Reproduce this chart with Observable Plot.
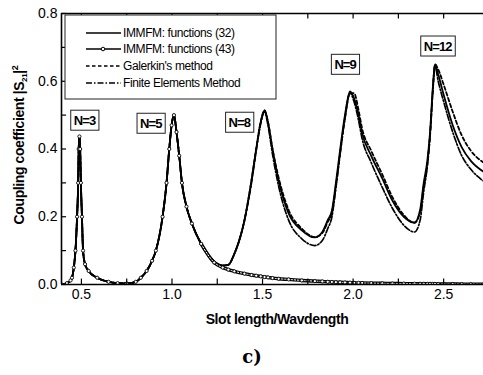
<!DOCTYPE html>
<html><head><meta charset="utf-8">
<script src="https://cdn.jsdelivr.net/npm/d3@7"></script>
<script src="https://cdn.jsdelivr.net/npm/@observablehq/plot@0.6"></script>
<style>
body{margin:0;background:#fff;}
#chart{position:relative;width:483px;height:375px;}
</style></head><body><div id="chart"></div>
<script>
// ---- data ----
const xGrid = [0.39,0.42,0.44,0.448,0.458,0.467,0.476,0.482,0.485,0.489,
  0.493,0.497,0.503,0.509,0.52,0.54,0.587,0.65,0.7,0.75,
  0.8,0.828,0.86,0.89,0.911,0.948,0.97,0.985,0.998,1.011,
  1.025,1.04,1.055,1.08,1.11,1.161,1.233,1.28,1.311,1.344,
  1.40,1.439,1.465,1.49,1.511,1.53,1.555,1.589,1.644,1.717,
  1.789,1.83,1.86,1.883,1.905,1.928,1.955,1.983,2.005,2.03,
  2.05,2.10,2.161,2.217,2.28,2.339,2.37,2.39,2.41,2.425,
  2.44,2.452,2.47,2.50,2.55,2.60,2.65,2.72];
const y32 = [0.0,0.004,0.012,0.02,0.05,0.10,0.20,0.30,0.40,0.437,
  0.40,0.30,0.20,0.10,0.06,0.04,0.02,0.008,0.004,0.003,
  0.008,0.02,0.04,0.07,0.10,0.20,0.30,0.40,0.47,0.50,
  0.45,0.38,0.30,0.23,0.18,0.12,0.068,0.056,0.058,0.09,
  0.189,0.307,0.40,0.48,0.514,0.48,0.40,0.307,0.21,0.16,
  0.139,0.155,0.19,0.218,0.30,0.396,0.50,0.57,0.55,0.50,
  0.446,0.38,0.313,0.248,0.20,0.183,0.22,0.30,0.366,0.45,
  0.58,0.648,0.62,0.56,0.47,0.405,0.365,0.333];
const y43 = [0.0,0.004,0.012,0.02,0.05,0.10,0.20,0.30,0.40,0.437,
  0.40,0.30,0.20,0.10,0.06,0.04,0.02,0.008,0.004,0.003,
  0.008,0.02,0.04,0.07,0.10,0.20,0.30,0.40,0.47,0.50,
  0.45,0.38,0.30,0.23,0.18,0.12,0.065,0.05,0.044,0.039,
  0.032,0.028,0.026,0.024,0.022,0.021,0.019,0.017,0.015,0.012,
  0.010,0.009,0.008,0.0075,0.007,0.0065,0.006,0.0055,0.005,0.0048,
  0.0045,0.004,0.0035,0.003,0.0027,0.0024,0.0022,0.0021,0.002,0.002,
  0.0019,0.0018,0.0017,0.0016,0.0014,0.0012,0.0011,0.001];
const yGalerkin = [0.0,0.004,0.012,0.02,0.05,0.10,0.20,0.30,0.40,0.437,
  0.40,0.30,0.20,0.10,0.06,0.04,0.02,0.008,0.004,0.003,
  0.008,0.02,0.04,0.07,0.10,0.20,0.30,0.40,0.47,0.50,
  0.45,0.38,0.30,0.23,0.18,0.12,0.068,0.056,0.058,0.09,
  0.189,0.307,0.40,0.48,0.514,0.48,0.40,0.315,0.22,0.165,
  0.14,0.152,0.185,0.212,0.29,0.385,0.49,0.565,0.565,0.515,
  0.46,0.395,0.325,0.258,0.205,0.182,0.215,0.29,0.355,0.44,
  0.57,0.65,0.635,0.59,0.51,0.44,0.395,0.36];
const yFEM = [0.0,0.004,0.012,0.02,0.05,0.10,0.20,0.30,0.40,0.437,
  0.40,0.30,0.20,0.10,0.06,0.04,0.02,0.008,0.004,0.003,
  0.008,0.02,0.04,0.07,0.10,0.20,0.30,0.40,0.47,0.50,
  0.45,0.38,0.30,0.23,0.18,0.12,0.068,0.056,0.058,0.09,
  0.189,0.30,0.395,0.475,0.51,0.47,0.385,0.29,0.19,0.135,
  0.115,0.13,0.165,0.20,0.285,0.385,0.49,0.565,0.54,0.485,
  0.43,0.36,0.287,0.225,0.175,0.155,0.19,0.275,0.35,0.44,
  0.57,0.645,0.60,0.54,0.45,0.38,0.34,0.305];
const seriesNames = ["IMMFM: functions (32)","IMMFM: functions (43)","Galerkin's method","Finite Elements Method"];
const xTicks = [0.5,1.0,1.5,2.0,2.5];
const xMinorTicks = [0.75,1.25,1.75,2.25];
const yTicks = [0.0,0.2,0.4,0.6,0.8];
const yMinorTicks = [0.1,0.3,0.5,0.7];
const peakLabels = ["N=3","N=5","N=8","N=9","N=12"];
const peakLabelX = [0.517,0.883,1.372,1.956,2.467];
const peakLabelY = [0.484,0.475,0.478,0.649,0.703];
const xTitle = "Slot length/Wavdength";
const caption = "c)";

// ---- build ----
const rows = ys => xGrid.map((x,i)=>({x, y: ys[i]}));
const r32 = rows(y32), r43 = rows(y43), rG = rows(yGalerkin), rF = rows(yFEM);
// part of series (43) that leaves the other curves (long decaying tail)
const firstSplit = y43.findIndex((v,i) => v !== y32[i]);
const r43tail = r43.slice(firstSplit - 1);
const labelRows = peakLabels.map((t,i)=>({t, x: peakLabelX[i], y: peakLabelY[i]}));
const allX = xTicks.concat(xMinorTicks), allY = yTicks.concat(yMinorTicks);
const X0 = 0.39, X1 = 2.72;
const fmt = d3.format(".1f");
const lineOpts = {x:"x", y:"y", curve:"monotone-x", clip:true, stroke:"#000"};

const chart = Plot.plot({
  width: 483, height: 375,
  marginLeft: 61, marginRight: 0, marginTop: 13, marginBottom: 91,
  style: {fontFamily: "'Liberation Sans', Arial, sans-serif", fontSize: "14px", background: "#fff", color: "#000"},
  x: {domain: [X0, X1]},
  y: {domain: [0, 0.8]},
  marks: [
    Plot.line(rF, {...lineOpts, strokeWidth: 1.7, strokeDasharray: "6,2,1.5,2"}),
    Plot.line(rG, {...lineOpts, strokeWidth: 1.8, strokeDasharray: "3.5,2.5"}),
    Plot.line(r32, {...lineOpts, strokeWidth: 1.8}),
    Plot.line(r43, {...lineOpts, strokeWidth: 1.8}),
    Plot.line(r43tail, {...lineOpts, strokeWidth: 3.4}),
    Plot.line(r43tail, {...lineOpts, stroke: "#fff", strokeWidth: 1.0, strokeDasharray: "1.4,1.8"}),
    Plot.dot(r43, {x: "x", y: "y", r: 1.6, fill: "#fff", stroke: "#000", strokeWidth: 0.9, clip: true}),
    Plot.ruleX(allX, {x: d=>d, y1: 0, y2: 0.016, strokeWidth: 1.2}),
    Plot.ruleX(allX, {x: d=>d, y1: 0.8, y2: 0.784, strokeWidth: 1.2}),
    Plot.ruleY(allY, {y: d=>d, x1: X0, x2: X0 + 0.028, strokeWidth: 1.2}),
    Plot.ruleY([0], {strokeWidth: 1.6}),
    Plot.ruleY([0.8], {strokeWidth: 1.6}),
    Plot.ruleX([X0], {strokeWidth: 1.6}),
    Plot.axisX(xTicks, {tickSize: 0, tickPadding: 5, tickFormat: fmt, label: null, fontSize: 14}),
    Plot.axisY(yTicks, {tickSize: 0, tickPadding: 4, tickFormat: fmt, label: null, fontSize: 14}),
    Plot.text(labelRows, {x: "x", y: "y", text: "t", fontWeight: "bold", fontSize: 13, fill: "#000"})
  ]
});
document.getElementById("chart").appendChild(chart);

const svg = d3.select(chart);
// boxes around peak labels (same transform as the label text)
svg.selectAll("text").filter(function(){ return peakLabels.includes(this.textContent); })
  .attr("letter-spacing", "-0.9")
  .each(function(){
    const b = this.getBBox();
    const rect = document.createElementNS("http://www.w3.org/2000/svg", "rect");
    this.parentNode.insertBefore(rect, this);
    const tr = this.getAttribute("transform");
    const r = d3.select(rect)
      .attr("x", b.x - 3).attr("y", b.y - 2.5)
      .attr("width", b.width + 6).attr("height", b.height + 5)
      .attr("fill", "#fff").attr("stroke", "#222").attr("stroke-width", 1);
    if (tr) r.attr("transform", tr);
  });

// legend
const lg = svg.append("g").attr("font-size", 12).attr("text-anchor", "start")
  .attr("font-family", "'Liberation Sans', Arial, sans-serif");
lg.append("rect").attr("x", 65).attr("y", 15).attr("width", 211).attr("height", 84)
  .attr("fill", "#fff").attr("stroke", "#222").attr("stroke-width", 1);
const legY = [33, 49, 66, 83];
const dashes = [null, null, "3.5,2.5", "6,2,1.5,2"];
seriesNames.forEach((name, i) => {
  const l = lg.append("line").attr("x1", 86).attr("x2", 121).attr("y1", legY[i]).attr("y2", legY[i])
    .attr("stroke", "#000").attr("stroke-width", 1.5);
  if (dashes[i]) l.attr("stroke-dasharray", dashes[i]);
  if (i === 1) lg.append("circle").attr("cx", 103).attr("cy", legY[i]).attr("r", 1.8)
    .attr("fill", "#fff").attr("stroke", "#000").attr("stroke-width", 1);
  lg.append("text").attr("x", 123).attr("y", legY[i] + 4.3).attr("text-anchor", "start")
    .attr("letter-spacing", "-0.4").text(name);
});

// axis titles and caption
svg.append("text").attr("x", 277).attr("y", 324).attr("text-anchor", "middle")
  .attr("font-weight", "bold").attr("font-size", 14).attr("letter-spacing", "-0.4").text(xTitle);
const yt = svg.append("text").attr("transform", "translate(24,145) rotate(-90)")
  .attr("text-anchor", "middle").attr("font-weight", "bold").attr("font-size", 14).attr("letter-spacing", "-0.4");
yt.append("tspan").text("Coupling coefficient |S");
yt.append("tspan").attr("font-size", 8).attr("dy", 3).text("21");
yt.append("tspan").attr("dy", -3).text("|");
yt.append("tspan").attr("font-size", 9).attr("dy", -6).text("2");
svg.append("text").attr("x", 252).attr("y", 363).attr("text-anchor", "middle")
  .attr("font-weight", "bold").attr("font-size", 18).attr("font-family", "'DejaVu Serif', 'Liberation Serif', serif").text(caption);
</script></body></html>
